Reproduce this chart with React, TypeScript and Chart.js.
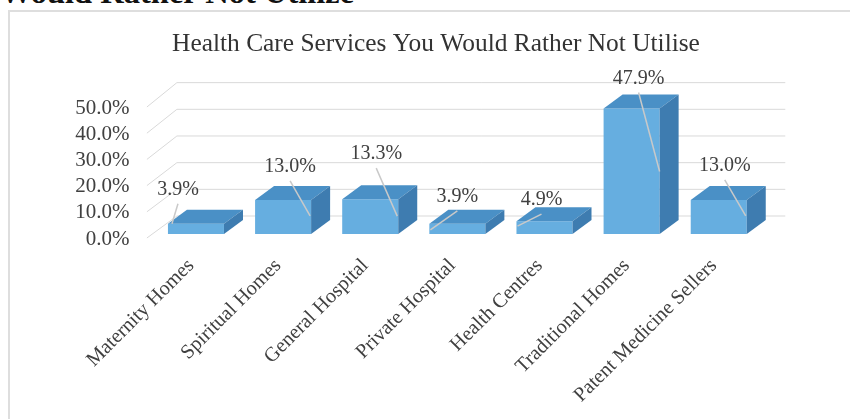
import React, { useEffect, useRef } from "react";
import { Chart, registerables } from "chart.js";

Chart.register(...registerables);

const categories = [
  "Maternity Homes",
  "Spiritual Homes",
  "General Hospital",
  "Private Hospital",
  "Health Centres",
  "Traditional Homes",
  "Patent Medicine Sellers",
];
const percentages = [3.9, 13.0, 13.3, 3.9, 4.9, 47.9, 13.0];
const yTicks = [0, 10, 20, 30, 40, 50];
const chartTitle = "Health Care Services You Would Rather Not Utilise";
const pageHeading = "Would Rather Not Utilize";

// placement of each data label / leader line, relative to the bar's front-top centre (styling only)
const labelLayout = [
  { dx: -18, dy: -34, ex: -24, ey: 0 },
  { dx: 7, dy: -33, ex: 27, ey: 16 },
  { dx: 6, dy: -45, ex: 27, ey: 17 },
  { dx: 0, dy: -27, ex: -27, ey: 6 },
  { dx: -3, dy: -21, ex: -27, ey: 5 },
  { dx: 7, dy: -30, ex: 28, ey: 63 },
  { dx: 6, dy: -34, ex: 27, ey: 16 },
];

const SERIF = "'Liberation Serif', 'Times New Roman', serif";
const TEXT = "#404040";
const DEPTH_X = 19;
const DEPTH_Y = -14;

const threeD = {
  id: "threeD",
  beforeDatasetsDraw(chart: any) {
    const { ctx, chartArea: a, scales } = chart;
    const y = scales.y;
    ctx.save();
    ctx.strokeStyle = "#d9d9d9";
    ctx.lineWidth = 1;
    for (const v of yTicks) {
      const yb = y.getPixelForValue(v);
      const by = yb - 18 - (a.bottom - yb) * 0.018;
      ctx.beginPath();
      ctx.moveTo(a.left - 5.5, yb + 4);
      ctx.lineTo(a.left + 24.5, by);
      ctx.lineTo(a.right + 23, by);
      ctx.stroke();
    }
    ctx.restore();
  },
  afterDatasetsDraw(chart: any) {
    const { ctx } = chart;
    const meta = chart.getDatasetMeta(0);
    ctx.save();
    meta.data.forEach((bar: any) => {
      const { x, y, base, width } = bar.getProps(["x", "y", "base", "width"], true);
      const xl = x - width / 2;
      const xr = x + width / 2;
      ctx.fillStyle = "#4a90c6";
      ctx.beginPath();
      ctx.moveTo(xl, y);
      ctx.lineTo(xr, y);
      ctx.lineTo(xr + DEPTH_X, y + DEPTH_Y);
      ctx.lineTo(xl + DEPTH_X, y + DEPTH_Y);
      ctx.closePath();
      ctx.fill();
      ctx.fillStyle = "#3e7cb0";
      ctx.beginPath();
      ctx.moveTo(xr, y);
      ctx.lineTo(xr + DEPTH_X, y + DEPTH_Y);
      ctx.lineTo(xr + DEPTH_X, base + DEPTH_Y);
      ctx.lineTo(xr, base);
      ctx.closePath();
      ctx.fill();
    });
    meta.data.forEach((bar: any, i: number) => {
      const { x, y } = bar.getProps(["x", "y"], true);
      const L = labelLayout[i];
      const lx = x + L.dx;
      const ly = y + L.dy;
      ctx.strokeStyle = "#c9c9c9";
      ctx.lineWidth = 1.5;
      ctx.beginPath();
      ctx.moveTo(lx, ly + 14);
      ctx.lineTo(x + L.ex, y + L.ey);
      ctx.stroke();
      ctx.fillStyle = TEXT;
      ctx.font = `20px ${SERIF}`;
      ctx.textAlign = "center";
      ctx.textBaseline = "middle";
      ctx.fillText(percentages[i].toFixed(1) + "%", lx, ly);
    });
    ctx.restore();
  },
  afterDraw(chart: any) {
    const { ctx } = chart;
    ctx.save();
    ctx.fillStyle = "#333333";
    ctx.font = `25.4px ${SERIF}`;
    ctx.textAlign = "center";
    ctx.textBaseline = "middle";
    ctx.fillText(chartTitle, 436, 44);
    ctx.restore();
  },
};

export default function App() {
  const ref = useRef<HTMLCanvasElement | null>(null);
  useEffect(() => {
    if (!ref.current) return;
    const chart = new Chart(ref.current, {
      type: "bar",
      data: {
        labels: categories,
        datasets: [
          {
            data: percentages,
            backgroundColor: "#66aee0",
            borderWidth: 0,
            categoryPercentage: 1,
            barPercentage: 0.643,
          },
        ],
      },
      options: {
        animation: false,
        responsive: true,
        maintainAspectRatio: false,
        layout: { padding: { top: 103, right: 87.7, bottom: 0, left: 0 } },
        plugins: {
          legend: { display: false },
          title: { display: false },
          tooltip: { enabled: false },
        },
        scales: {
          x: {
            offset: true,
            grid: { display: false },
            border: { display: false },
            ticks: {
              minRotation: 45,
              maxRotation: 45,
              autoSkip: false,
              padding: 12,
              labelOffset: -5,
              color: TEXT,
              font: { family: SERIF, size: 20.3 },
            },
            afterFit: (s: any) => {
              s.height = 185;
            },
          },
          y: {
            min: 0,
            max: 50,
            grid: { display: false, drawTicks: false },
            border: { display: false },
            ticks: {
              stepSize: 10,
              autoSkip: false,
              padding: 23,
              labelOffset: 5,
              color: TEXT,
              font: { family: SERIF, size: 21 },
              callback: (v: any) => Number(v).toFixed(1) + "%",
            },
            afterFit: (s: any) => {
              s.width = 152.4;
            },
          },
        },
      },
      plugins: [threeD],
    });
    return () => chart.destroy();
  }, []);

  return (
    <div style={{ position: "fixed", left: 0, top: 0, width: 850, height: 419, overflow: "hidden", background: "#ffffff" }}>
      <div
        style={{
          position: "absolute",
          left: 0,
          top: -24,
          fontFamily: SERIF,
          fontWeight: "bold",
          fontSize: 32.5,
          lineHeight: "32px",
          color: "#111",
          whiteSpace: "nowrap",
        }}
      >
        {pageHeading}
      </div>
      <div
        style={{
          position: "absolute",
          left: 8,
          top: 10,
          width: 900,
          height: 500,
          borderLeft: "2px solid #dedede",
          borderTop: "2px solid #dedede",
        }}
      />
      <div style={{ position: "absolute", left: 0, top: 0, width: 850, height: 419 }}>
        <canvas ref={ref} />
      </div>
    </div>
  );
}
